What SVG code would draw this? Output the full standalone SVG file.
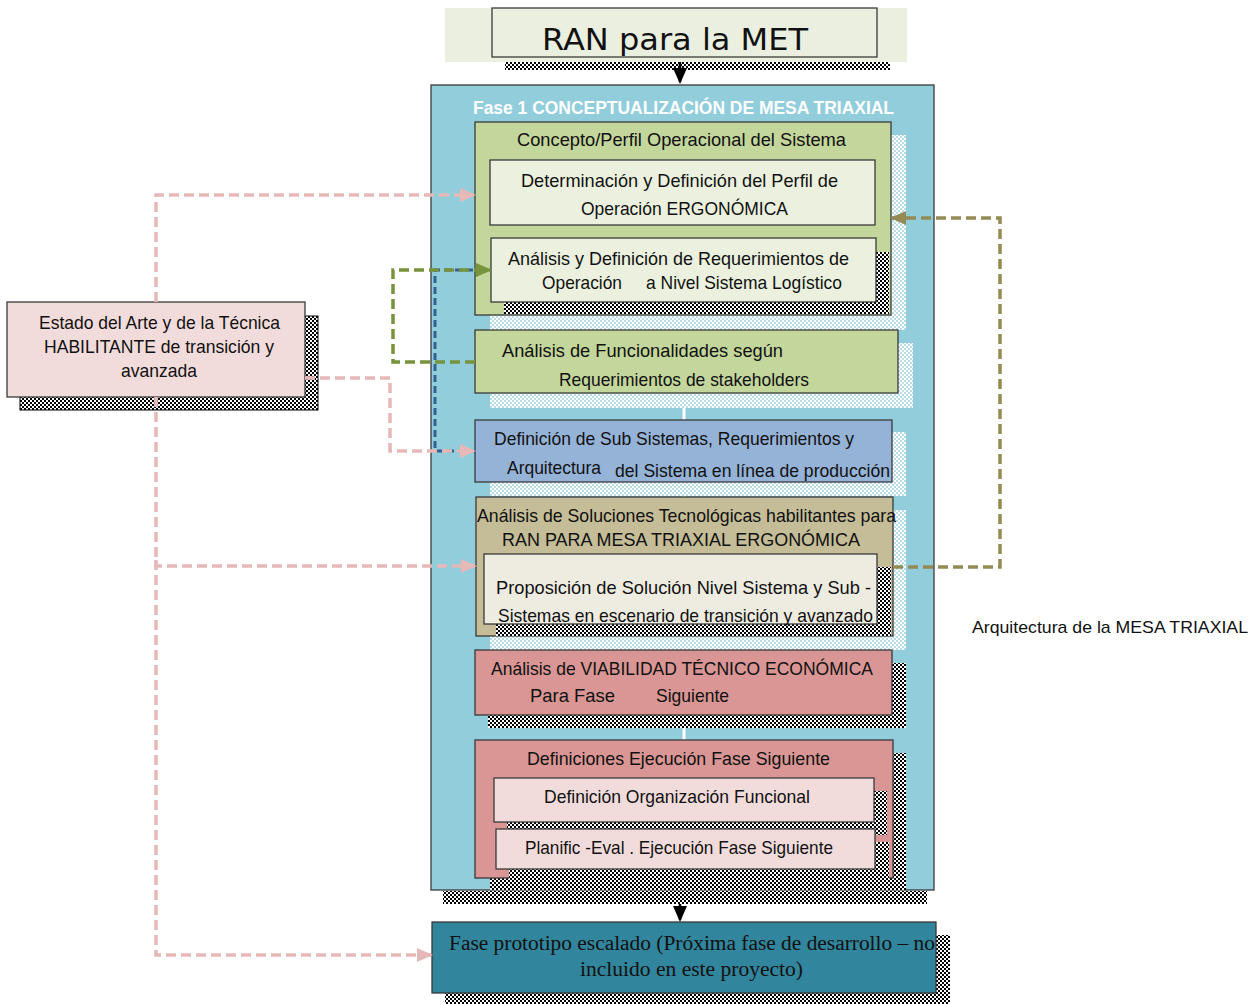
<svg xmlns="http://www.w3.org/2000/svg" width="1260" height="1004" viewBox="0 0 1260 1004">
<style>
.t{font-family:"Liberation Sans Narrow","Liberation Sans",Arial,sans-serif;font-size:19px;fill:#111}
.s{font-family:"Liberation Serif","Times New Roman",serif;font-size:20px;fill:#111}
.box{stroke:#3a3a3a;stroke-width:1.3}
.pk{fill:none;stroke:#e6b9b8;stroke-width:3.5;stroke-dasharray:10,5}
.gr{fill:none;stroke:#77933c;stroke-width:3.5;stroke-dasharray:10,5}
.bl{fill:none;stroke:#366092;stroke-width:3;stroke-dasharray:7,4}
.ol{fill:none;stroke:#948a54;stroke-width:3.5;stroke-dasharray:10,5}
.wh{fill:none;stroke:#ffffff;stroke-width:3}
</style>
<defs>
<pattern id="dk" width="4" height="4" patternUnits="userSpaceOnUse"><rect width="4" height="4" fill="#fff"/><rect width="2" height="2" fill="#000"/><rect x="2" y="2" width="2" height="2" fill="#000"/></pattern>
<pattern id="lt" width="4" height="4" patternUnits="userSpaceOnUse"><rect width="4" height="4" fill="#fff"/><rect width="2" height="2" fill="#b9dde8"/><rect x="2" y="2" width="2" height="2" fill="#b9dde8"/></pattern>
<marker id="apk" markerWidth="16" markerHeight="14" refX="14" refY="7" orient="auto" markerUnits="userSpaceOnUse"><path d="M0,0 L16,7 L0,14 z" fill="#e6b9b8"/></marker>
<marker id="agr" markerWidth="16" markerHeight="14" refX="14" refY="7" orient="auto" markerUnits="userSpaceOnUse"><path d="M0,0 L16,7 L0,14 z" fill="#77933c"/></marker>
<marker id="aol" markerWidth="16" markerHeight="14" refX="14" refY="7" orient="auto" markerUnits="userSpaceOnUse"><path d="M0,0 L16,7 L0,14 z" fill="#948a54"/></marker>
<marker id="abk" markerWidth="16" markerHeight="14" refX="14" refY="7" orient="auto" markerUnits="userSpaceOnUse"><path d="M0,0 L16,7 L0,14 z" fill="#000"/></marker>
</defs>
<rect width="1260" height="1004" fill="#fff"/>

<g id="ran">
<rect x="445" y="8" width="462" height="54" fill="#ebefdf"/>
<rect x="505" y="62" width="385" height="8" fill="url(#dk)"/>
<rect class="box" x="492" y="8" width="385" height="49" fill="#ebefdf"/>
<text x="542" y="50" textLength="266" lengthAdjust="spacingAndGlyphs" style="font-family:'DejaVu Sans',Verdana,sans-serif;font-size:31px;fill:#111">RAN para la MET</text>
</g>

<g id="fase1">
<rect class="box" x="431" y="85" width="503" height="805" fill="#92cddc"/>
<rect x="443" y="891" width="484" height="13" fill="url(#dk)"/>
<text class="t" x="473" y="114" textLength="421" lengthAdjust="spacingAndGlyphs" style="font-weight:bold;fill:#fff">Fase 1 CONCEPTUALIZACIÓN DE MESA TRIAXIAL</text>
<path class="wh" d="M684 315 V330 M684 393 V420 M684 482 V497 M684 636 V650 M684 715 V740"/>
</g>

<g id="concepto">
<rect x="891" y="135" width="15" height="195" fill="url(#lt)"/>
<rect x="490" y="315" width="416" height="15" fill="url(#lt)"/>
<rect class="box" x="475" y="122" width="416" height="193" fill="#c3d69b"/>
<text class="t" x="517" y="146" textLength="329" lengthAdjust="spacingAndGlyphs">Concepto/Perfil Operacional del    Sistema</text>
</g>
<g id="determinacion">
<rect class="box" x="490" y="160" width="385" height="65" fill="#ebf1de"/>
<text class="t" x="521" y="187" textLength="317" lengthAdjust="spacingAndGlyphs">Determinación y   Definición  del Perfil de</text>
<text class="t" x="581" y="215" textLength="207" lengthAdjust="spacingAndGlyphs">Operación ERGONÓMICA</text>
</g>
<g id="requerimientos">
<rect x="876" y="252" width="13" height="62" fill="url(#dk)"/>
<rect x="504" y="302" width="385" height="12" fill="url(#dk)"/>
<rect class="box" x="491" y="238" width="385" height="64" fill="#ebf1de"/>
<text class="t" x="508" y="265" textLength="341" lengthAdjust="spacingAndGlyphs">Análisis y  Definición  de Requerimientos de</text>
<text class="t" x="542" y="289" textLength="80" lengthAdjust="spacingAndGlyphs">Operación</text>
<text class="t" x="646" y="289" textLength="196" lengthAdjust="spacingAndGlyphs">a Nivel Sistema Logístico</text>
</g>

<g id="funcionalidades">
<rect x="490" y="343" width="423" height="65" fill="url(#lt)"/>
<rect class="box" x="475" y="330" width="423" height="63" fill="#c3d69b"/>
<text class="t" x="502" y="357" textLength="281" lengthAdjust="spacingAndGlyphs">Análisis de  Funcionalidades   según</text>
<text class="t" x="559" y="386" textLength="250" lengthAdjust="spacingAndGlyphs">Requerimientos de stakeholders</text>
</g>

<g id="subsistemas">
<rect x="490" y="432" width="416" height="64" fill="url(#lt)"/>
<rect class="box" x="475" y="420" width="417" height="62" fill="#95b3d7"/>
<text class="t" x="494" y="445" textLength="360" lengthAdjust="spacingAndGlyphs">Definición de Sub Sistemas, Requerimientos y</text>
<text class="t" x="507" y="474" textLength="94" lengthAdjust="spacingAndGlyphs">Arquitectura</text>
<text class="t" x="615" y="477" textLength="275" lengthAdjust="spacingAndGlyphs">del Sistema en línea de producción</text>
</g>

<g id="soluciones">
<rect x="490" y="510" width="416" height="140" fill="url(#lt)"/>
<rect class="box" x="476" y="497" width="417" height="139" fill="#c4bd97"/>
<text class="t" x="477" y="522" textLength="419" lengthAdjust="spacingAndGlyphs">Análisis de Soluciones  Tecnológicas habilitantes para</text>
<text class="t" x="502" y="546" textLength="358" lengthAdjust="spacingAndGlyphs">RAN  PARA MESA TRIAXIAL ERGONÓMICA</text>
</g>
<g id="proposicion">
<rect x="877" y="567" width="14" height="69" fill="url(#dk)"/>
<rect x="496" y="624" width="395" height="12" fill="url(#dk)"/>
<rect class="box" x="484" y="554" width="393" height="70" fill="#eeece1"/>
<text class="t" x="496" y="594" textLength="375" lengthAdjust="spacingAndGlyphs">Proposición  de Solución  Nivel Sistema y Sub  -</text>
<text class="t" x="498" y="622" textLength="375" lengthAdjust="spacingAndGlyphs">Sistemas en escenario de transición y avanzado</text>
</g>

<g id="viabilidad">
<rect x="488" y="663" width="418" height="65" fill="url(#dk)"/>
<rect class="box" x="475" y="650" width="417" height="65" fill="#d99694"/>
<text class="t" x="491" y="675" textLength="382" lengthAdjust="spacingAndGlyphs">Análisis de VIABILIDAD TÉCNICO ECONÓMICA</text>
<text class="t" x="530" y="702" textLength="85" lengthAdjust="spacingAndGlyphs">Para  Fase</text>
<text class="t" x="656" y="702" textLength="73" lengthAdjust="spacingAndGlyphs">Siguiente</text>
</g>

<g id="definiciones">
<rect x="490" y="753" width="416" height="137" fill="url(#dk)"/>
<rect class="box" x="475" y="740" width="418" height="138" fill="#d99694"/>
<text class="t" x="527" y="765" textLength="303" lengthAdjust="spacingAndGlyphs">Definiciones  Ejecución Fase Siguiente</text>
</g>
<g id="organizacion">
<rect x="874" y="791" width="13" height="44" fill="url(#dk)"/>
<rect x="507" y="822" width="380" height="13" fill="url(#dk)"/>
<rect class="box" x="494" y="778" width="380" height="44" fill="#f2dcdb"/>
<text class="t" x="544" y="803" textLength="266" lengthAdjust="spacingAndGlyphs">Definición Organización Funcional</text>
</g>
<g id="planific">
<rect x="875" y="842" width="14" height="38" fill="url(#dk)"/>
<rect x="509" y="869" width="380" height="11" fill="url(#dk)"/>
<rect class="box" x="496" y="829" width="379" height="40" fill="#f2dcdb"/>
<text class="t" x="525" y="854" textLength="308" lengthAdjust="spacingAndGlyphs">Planific -Eval . Ejecución Fase Siguiente</text>
</g>

<g id="prototipo">
<rect x="445" y="935" width="505" height="69" fill="url(#dk)"/>
<rect class="box" x="432" y="922" width="504" height="71" fill="#31859c"/>
<text class="s" x="449" y="950" textLength="486" lengthAdjust="spacingAndGlyphs">Fase prototipo escalado (Próxima fase de desarrollo – no</text>
<text class="s" x="580" y="976" textLength="223" lengthAdjust="spacingAndGlyphs">incluido en este proyecto)</text>
</g>

<g id="estado">
<rect x="20" y="316" width="298" height="94" fill="url(#dk)" stroke="#000" stroke-width="1"/>
<rect class="box" x="7" y="302" width="298" height="95" fill="#f2dcdb"/>
<text class="t" x="39" y="329" textLength="241" lengthAdjust="spacingAndGlyphs">Estado del Arte y de la Técnica</text>
<text class="t" x="44" y="353" textLength="230" lengthAdjust="spacingAndGlyphs">HABILITANTE de transición y</text>
<text class="t" x="121" y="377" textLength="76" lengthAdjust="spacingAndGlyphs">avanzada</text>
</g>

<g id="arquitectura-label">
<text class="t" x="972" y="633" textLength="276" lengthAdjust="spacingAndGlyphs" style="font-size:17px">Arquitectura  de la  MESA TRIAXIAL</text>
</g>

<g id="connectors">
<path d="M680 62 V82" stroke="#000" stroke-width="2.5" fill="none" marker-end="url(#abk)"/>
<path d="M680 904 V920" stroke="#000" stroke-width="2.5" fill="none" marker-end="url(#abk)"/>
<path class="bl" d="M476 451 H435 V270 H476"/>
<path class="gr" d="M475 362 H393 V270 H490" marker-end="url(#agr)"/>
<path class="pk" d="M156 302 V195 H474" marker-end="url(#apk)"/>
<path class="pk" d="M305 378 H390 V451 H474" marker-end="url(#apk)"/>
<path class="pk" d="M156 397 V566 H475" marker-end="url(#apk)"/>
<path class="pk" d="M156 560 V955 H431" marker-end="url(#apk)"/>
<path class="ol" d="M893 567 H1000 V218 H892" marker-end="url(#aol)"/>
</g>
</svg>
